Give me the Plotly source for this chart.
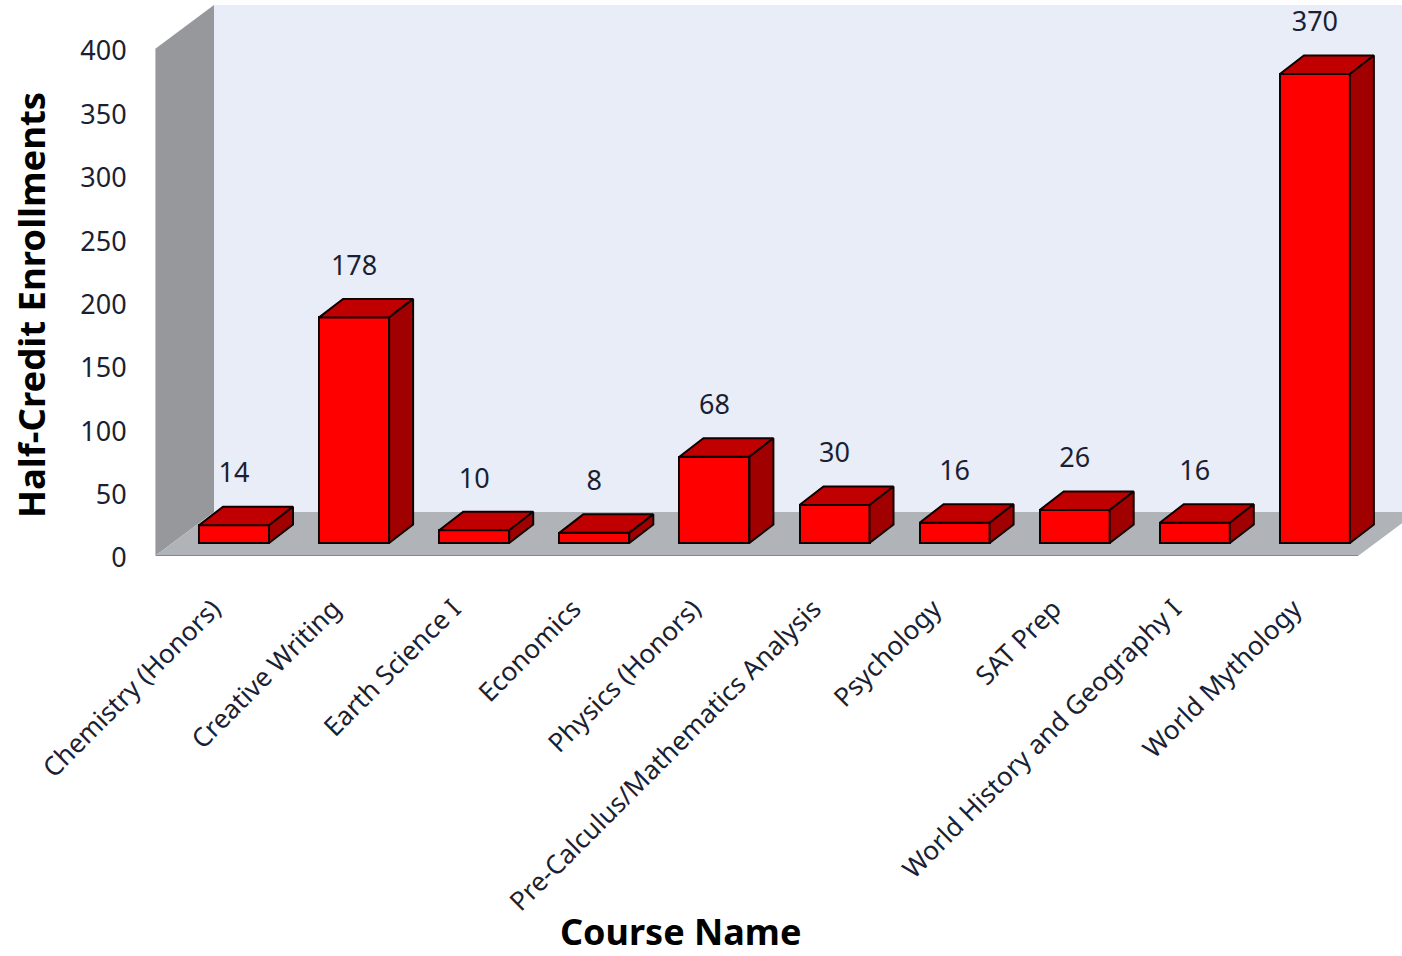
import plotly.graph_objects as go

courses = ["Chemistry (Honors)", "Creative Writing", "Earth Science I", "Economics",
           "Physics (Honors)", "Pre-Calculus/Mathematics Analysis", "Psychology",
           "SAT Prep", "World History and Geography I", "World Mythology"]
enrollments = [14, 178, 10, 8, 68, 30, 16, 26, 16, 370]
y_ticks = [0, 50, 100, 150, 200, 250, 300, 350, 400]

FONT = "Noto Sans"
W, H = 1402, 956
ML, MT, MB = 155, 5, 400
PX_X = 120.1          # pixels per category
PX_Y = 507 / 400      # pixels per value unit
x0 = -(234 - ML) / PX_X
x1 = x0 + (W - ML) / PX_X
ytop = (H - MB - MT) / PX_Y

bar_w = 70 / PX_X
base = 13 / PX_Y
dx, dy = 24 / PX_X, 18.5 / PX_Y
wall_dx, wall_dy = 59 / PX_X, 44 / PX_Y
floor_end = (1358 - 234) / PX_X

fig = go.Figure()

def poly(xs, ys, fill):
    path = "M " + " L ".join(f"{a},{b}" for a, b in zip(xs, ys)) + " Z"
    return dict(type="path", path=path, xref="x", yref="y", layer="below",
                fillcolor=fill, line=dict(color=fill, width=0))

shapes = [
    poly([x0 + wall_dx, x1 + 1, x1 + 1, x0 + wall_dx],
         [wall_dy, wall_dy, ytop, ytop], "#E9EDF7"),
    poly([x0, x0 + wall_dx, x0 + wall_dx, x0],
         [0, wall_dy, 400 + wall_dy, 400], "#96989C"),
    poly([x0, x0 + wall_dx, floor_end + wall_dx, floor_end],
         [0, wall_dy, wall_dy, 0], "#B0B3B8"),
    dict(type="line", xref="x", yref="y", x0=x0, x1=floor_end, y0=0, y1=0, layer="below",
         line=dict(color="#85878B", width=2)),
    dict(type="line", xref="x", yref="y", x0=x0, x1=x0, y0=0, y1=400, layer="below",
         line=dict(color="#C0C2C5", width=2)),
]

idx = list(range(len(courses)))
fig.add_trace(go.Bar(x=idx, y=enrollments, base=[base] * len(idx), width=bar_w,
                     marker=dict(color="#FF0000", line=dict(color="#100000", width=2)),
                     showlegend=False, hoverinfo="skip"))

for i, v in zip(idx, enrollments):
    l, r = i - bar_w / 2, i + bar_w / 2
    t = base + v
    fig.add_trace(go.Scatter(x=[l, l + dx, r + dx, r, l], y=[t, t + dy, t + dy, t, t],
                             mode="lines", fill="toself", fillcolor="#C00000",
                             line=dict(color="#100000", width=2),
                             showlegend=False, hoverinfo="skip"))
    fig.add_trace(go.Scatter(x=[r, r + dx, r + dx, r, r],
                             y=[t, t + dy, base + dy, base, t],
                             mode="lines", fill="toself", fillcolor="#A00000",
                             line=dict(color="#100000", width=2),
                             showlegend=False, hoverinfo="skip"))

fig.add_trace(go.Scatter(x=idx, y=[v + base + dy + 24.5 for v in enrollments],
                         text=[str(v) for v in enrollments], mode="text",
                         textposition="middle center", cliponaxis=False,
                         textfont=dict(family=FONT, size=27, color="#1B1F33"),
                         showlegend=False, hoverinfo="skip"))

fig.update_layout(
    width=W, height=H, autosize=False,
    margin=dict(l=ML, r=0, t=MT, b=MB, pad=0),
    paper_bgcolor="white", plot_bgcolor="white",
    shapes=shapes, bargap=0,
    xaxis=dict(range=[x0, x1], tickmode="array", tickvals=idx, ticktext=courses,
               tickangle=-45, showgrid=False, zeroline=False, showline=False,
               ticks="outside", ticklen=26, tickcolor="rgba(0,0,0,0)",
               ticklabelshift=-21,
               tickfont=dict(family=FONT, size=26.2, color="#1B1F33")),
    yaxis=dict(range=[0, ytop], tickmode="array", tickvals=y_ticks,
               showgrid=False, zeroline=False, showline=False,
               ticks="outside", ticklen=22, tickcolor="rgba(0,0,0,0)",
               ticklabelshift=2,
               tickfont=dict(family=FONT, size=27, color="#1B1F33")),
    annotations=[
        dict(text="<b>Course Name</b>", x=(680 - ML) / (W - ML), y=(H - MB - 931) / (H - MB - MT),
             xref="paper", yref="paper", xanchor="center", yanchor="middle",
             showarrow=False, font=dict(family=FONT, size=36, color="black")),
        dict(text="<b>Half-Credit Enrollments</b>", x=(31 - ML) / (W - ML),
             y=(H - MB - 305) / (H - MB - MT), textangle=-90,
             xref="paper", yref="paper", xanchor="center", yanchor="middle",
             showarrow=False, font=dict(family=FONT, size=36.5, color="black")),
    ],
)

fig.write_html("out.html", config=dict(displayModeBar=False),
               post_script="document.body.style.margin='0';")
